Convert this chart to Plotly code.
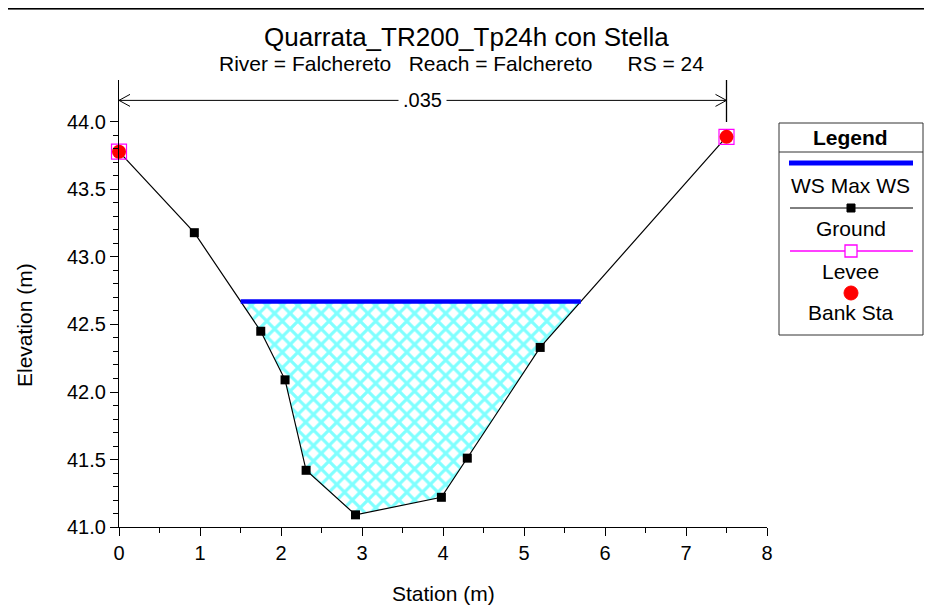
import numpy as np
import plotly.graph_objects as go

# HEC-RAS cross section, River = Falchereto, RS = 24
station = [0.0, 0.93, 1.75, 2.05, 2.31, 2.92, 3.98, 4.30, 5.20, 7.50]
elevation = [43.78, 43.18, 42.45, 42.09, 41.42, 41.09, 41.22, 41.51, 42.33, 43.89]

ws_max = 42.67

levee_sta = [0.0, 7.5]
levee_elev = [43.78, 43.89]
bank_sta = [0.0, 7.5]
bank_elev = [43.78, 43.89]

manning_n = ".035"
n_from, n_to = 0.0, 7.5

x_ticks = [0, 1, 2, 3, 4, 5, 6, 7, 8]
y_ticks = [41.0, 41.5, 42.0, 42.5, 43.0, 43.5, 44.0]

FONT = "Liberation Sans, Arial, Helvetica, sans-serif"
# the page body has an 8px margin, so the figure is shifted by that much
OFF = 8
W, H = 932 - OFF, 608 - OFF
L, R, T, B = 119 - OFF, 165, 80 - OFF, 81
y_top = 44.311


def fx(p):
    # page pixel -> paper x
    return (p - OFF - L) / (W - L - R)


def fy(p):
    # page pixel -> paper y
    return (H - B - (p - OFF)) / (H - T - B)


# water area = ground below WS, closed by the WS line
sta = np.array(station)
el = np.array(elevation)


def crossing(i):
    return sta[i] + (ws_max - el[i]) * (sta[i + 1] - sta[i]) / (el[i + 1] - el[i])


wet = np.where(el < ws_max)[0]
i0, i1 = wet[0], wet[-1]
x_left, x_right = crossing(i0 - 1), crossing(i1)
poly_x = [x_left] + list(sta[i0:i1 + 1]) + [x_right, x_left]
poly_y = [ws_max] + list(el[i0:i1 + 1]) + [ws_max, ws_max]

fig = go.Figure()

fig.add_trace(go.Scatter(
    x=poly_x, y=poly_y, mode="lines", fill="toself",
    line=dict(width=0, color="rgba(0,0,0,0)"),
    fillpattern=dict(shape="x", fgcolor="#00ffff", bgcolor="white", size=11, solidity=0.5),
    hoverinfo="skip", showlegend=False,
))
fig.add_trace(go.Scatter(
    x=station, y=elevation, mode="lines+markers", name="Ground",
    line=dict(color="black", width=1.2),
    marker=dict(symbol="square", size=9, color="black"),
    cliponaxis=False, showlegend=False,
))
fig.add_trace(go.Scatter(
    x=[x_left, x_right], y=[ws_max, ws_max], mode="lines", name="WS Max WS",
    line=dict(color="#0000ff", width=4.5), showlegend=False,
))
fig.add_trace(go.Scatter(
    x=levee_sta, y=levee_elev, mode="markers", name="Levee",
    marker=dict(symbol="square-open", size=15, color="#ff00ff", line=dict(width=1.2)),
    cliponaxis=False, showlegend=False,
))
fig.add_trace(go.Scatter(
    x=bank_sta, y=bank_elev, mode="markers", name="Bank Sta",
    marker=dict(symbol="circle", size=14, color="#ff0000"),
    cliponaxis=False, showlegend=False,
))

# Manning's n bracket
arrow_y = 44.16
shapes = [
    dict(type="line", xref="x", yref="y", x0=n_to, x1=n_to, y0=44.0, y1=y_top,
         line=dict(color="black", width=1.3)),
    dict(type="line", xref="x", yref="y", x0=n_from, x1=n_to, y0=arrow_y, y1=arrow_y,
         line=dict(color="black", width=1)),
    dict(type="path", xref="x", yref="y", xsizemode="pixel", ysizemode="pixel",
         xanchor=n_from, yanchor=arrow_y, path="M 11,6 L 0,0 L 11,-6",
         line=dict(color="black", width=1)),
    dict(type="path", xref="x", yref="y", xsizemode="pixel", ysizemode="pixel",
         xanchor=n_to, yanchor=arrow_y, path="M -11,6 L 0,0 L -11,-6",
         line=dict(color="black", width=1)),
]

# window border at the top
shapes += [
    dict(type="line", xref="paper", yref="paper", x0=fx(0), x1=fx(940), y0=fy(8), y1=fy(8),
         line=dict(color="#888888", width=4)),
    dict(type="line", xref="paper", yref="paper", x0=fx(0), x1=fx(940), y0=fy(8), y1=fy(8),
         line=dict(color="black", width=2.5)),
]

# legend box drawn by hand (HEC-RAS style)
shapes += [
    dict(type="rect", xref="paper", yref="paper", x0=fx(779), x1=fx(923), y0=fy(335), y1=fy(123),
         line=dict(color="#333333", width=1), fillcolor="white"),
    dict(type="line", xref="paper", yref="paper", x0=fx(779), x1=fx(923), y0=fy(152), y1=fy(152),
         line=dict(color="#333333", width=1)),
    dict(type="line", xref="paper", yref="paper", x0=fx(789), x1=fx(913), y0=fy(163), y1=fy(163),
         line=dict(color="#0000ff", width=5)),
    dict(type="line", xref="paper", yref="paper", x0=fx(790), x1=fx(913), y0=fy(208), y1=fy(208),
         line=dict(color="black", width=1)),
    dict(type="rect", xref="paper", yref="paper", x0=fx(847), x1=fx(855), y0=fy(212), y1=fy(204),
         line=dict(color="black", width=1), fillcolor="black"),
    dict(type="line", xref="paper", yref="paper", x0=fx(790), x1=fx(913), y0=fy(251), y1=fy(251),
         line=dict(color="#ff00ff", width=1.3)),
    dict(type="rect", xref="paper", yref="paper", x0=fx(845), x1=fx(857), y0=fy(257), y1=fy(245),
         line=dict(color="#ff00ff", width=1.3), fillcolor="white"),
    dict(type="circle", xref="paper", yref="paper", x0=fx(844), x1=fx(858), y0=fy(300), y1=fy(286),
         line=dict(color="#ff0000", width=1), fillcolor="#ff0000"),
]


def text(label, px, py, size=21, bold=False, angle=0):
    return dict(
        text=f"<b>{label}</b>" if bold else label,
        xref="paper", yref="paper", x=fx(px), y=fy(py),
        xanchor="center", yanchor="middle", showarrow=False, textangle=angle,
        font=dict(family=FONT, size=size, color="black"),
    )


annotations = [
    text("Quarrata_TR200_Tp24h con Stella", 466, 37, size=26),
    text("River = Falchereto   Reach = Falchereto      RS = 24", 461, 63, size=21),
    text("Station (m)", 443, 593),
    text("Elevation (m)", 24, 325, angle=-90),
    text("Legend", 851, 137, bold=True),
    text("WS Max WS", 851, 185),
    text("Ground", 851, 228),
    text("Levee", 851, 271),
    text("Bank Sta", 851, 312),
    dict(text=manning_n, xref="x", yref="y", x=(n_from + n_to) / 2, y=arrow_y,
         xanchor="center", yanchor="middle", showarrow=False,
         font=dict(family=FONT, size=20, color="black"), bgcolor="white", borderpad=4),
]

fig.update_layout(
    width=W, height=H,
    margin=dict(l=L, r=R, t=T, b=B),
    paper_bgcolor="white", plot_bgcolor="white",
    font=dict(family=FONT, size=20, color="black"),
    shapes=shapes, annotations=annotations,
    showlegend=False,
)
fig.update_xaxes(
    range=[0, 8], tickvals=x_ticks, showgrid=False, zeroline=False,
    showline=True, linecolor="black", linewidth=1.3,
    ticks="outside", ticklen=8, tickcolor="black", tickwidth=1.3,
    minor=dict(tickvals=[v + 0.5 for v in x_ticks[:-1]], ticks="outside", ticklen=5,
               tickcolor="black", tickwidth=1.3, showgrid=False),
)
fig.update_yaxes(
    range=[41.0, y_top], tickvals=y_ticks, ticktext=[f"{v:.1f}" for v in y_ticks],
    showgrid=False, zeroline=False,
    showline=True, linecolor="black", linewidth=1.3,
    ticks="outside", ticklen=8, tickcolor="black", tickwidth=1.3,
    minor=dict(tickvals=[round(41.0 + 0.1 * k, 1) for k in range(31) if k % 5],
               ticks="outside", ticklen=5, tickcolor="black", tickwidth=1.3, showgrid=False),
)

fig.write_html("out.html")
